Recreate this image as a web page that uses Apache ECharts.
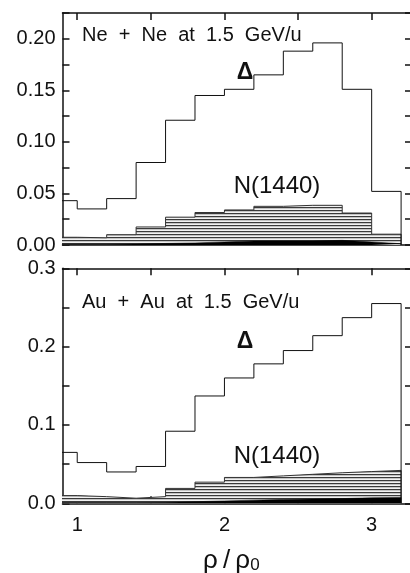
<!DOCTYPE html>
<html><head><meta charset="utf-8">
<script src="https://cdn.jsdelivr.net/npm/echarts@6/dist/echarts.min.js"></script>
<style>html,body{margin:0;padding:0;background:#fff}#c{width:410px;height:573px}</style>
</head><body><div id="c"></div>
<script>
// bin edges (rho/rho0)
const binEdges = [0.8,1.0,1.2,1.4,1.6,1.8,2.0,2.2,2.4,2.6,2.8,3.0,3.2];
// Ne + Ne at 1.5 GeV/u
const neDelta = [0.043,0.035,0.045,0.080,0.121,0.145,0.151,0.165,0.188,0.196,0.151,0.052];
const neN1440 = [0.0075,0.007,0.010,0.0175,0.027,0.0315,0.034,0.0375,0.0385,0.0385,0.031,0.0105];
const neDark  = [0.0008,0.0008,0.001,0.0015,0.002,0.003,0.004,0.004,0.004,0.0045,0.003,0.0012];
// Au + Au at 1.5 GeV/u
const auDelta = [0.065,0.052,0.040,0.047,0.092,0.137,0.160,0.178,0.195,0.214,0.237,0.255];
const auN1440 = [0.0098,0.0085,0.0065,0.0085,0.019,0.027,0.033,0.035,0.037,0.039,0.0405,0.042];
const auDark  = [0.001,0.001,0.001,0.0012,0.002,0.003,0.004,0.005,0.0055,0.006,0.007,0.0075];
// ticks
const xTickVals = [1,1.5,2,2.5,3];
const xLabelVals = [1,2,3];

function steps(vals){
  const d = vals.map((v,i)=>[binEdges[i], v]);
  const last = binEdges[vals.length];
  d.push([last, vals[vals.length-1]]);
  d.push([last, 0]);
  return d;
}

const pc = document.createElement('canvas');
pc.width = 4; pc.height = 3;
const g = pc.getContext('2d');
g.fillStyle = '#f2f2f2'; g.fillRect(0,0,4,3);
g.fillStyle = '#3a3a3a'; g.fillRect(0,0,4,1);
g.fillStyle = '#c4c4c4'; g.fillRect(0,1,4,1);

const FONT = 'Liberation Sans';
const black = '#111';
const grids = [
  {left:62.5, right:-2, top:13, height:232, outerBoundsMode:'none'},
  {left:62.5, right:-2, top:268.3, height:235, outerBoundsMode:'none'}
];
const xAxes = [], yAxes = [];
[0,1].forEach(gi=>{
  ['bottom','top'].forEach(pos=>{
    xAxes.push({type:'value', gridIndex:gi, position:pos, min:0.9, max:3.274,
      axisLine:{show:true, onZero:false, lineStyle:{color:black, width:1.5}},
      axisTick:{show:true, inside:true, length:7, customValues:xTickVals, lineStyle:{color:black,width:1.5}},
      axisLabel:{show:(gi===1 && pos==='bottom'), customValues:xLabelVals, margin:12,
        fontFamily:FONT, fontSize:20, color:black},
      splitLine:{show:false},
      name:(gi===1 && pos==='bottom') ? '{a|ρ\u2009/\u2009ρ}{b|0}' : '',
      nameLocation:'middle', nameGap:44,
      nameTextStyle:{padding:[0,12,0,0], rich:{a:{fontFamily:FONT,fontSize:26,color:black},
                           b:{fontFamily:FONT,fontSize:17,color:black,padding:[10,0,0,0]}}}
    });
  });
  ['left','right'].forEach(pos=>{
    const top = gi===0;
    yAxes.push({type:'value', gridIndex:gi, position:pos, min:0,
      max: top ? 0.225 : 0.3, interval: top ? 0.025 : 0.05,
      axisLine:{show:true, lineStyle:{color:black, width:1.5}},
      axisTick:{show:true, inside:true, length:7, lineStyle:{color:black,width:1.5}},
      axisLabel:{show:pos==='left', margin:7, fontFamily:FONT, fontSize:20, color:black,
        formatter:v=>{
          const m = Math.round(v*1000);
          if(top) return (m%50===0) ? v.toFixed(2) : '';
          return (m%100===0) ? v.toFixed(1) : '';
        }},
      splitLine:{show:false}
    });
  });
});

function hist(vals, gi, kind){
  const s = {type:'line', step:'end', xAxisIndex:gi*2, yAxisIndex:gi*2,
    data:steps(vals), symbol:'none', animation:false, silent:true};
  if(kind==='delta'){ s.lineStyle={color:black,width:1}; s.z=5; }
  if(kind==='n'){ s.lineStyle={color:'#333',width:1}; s.areaStyle={color:{image:pc,repeat:'repeat'},opacity:1}; s.z=3; }
  if(kind==='dark'){ s.lineStyle={color:'#000',width:0.5}; s.areaStyle={color:'#000',opacity:1}; s.z=4; }
  return s;
}

const txt = (t,x,y,size,align,weight)=>({type:'text', x:x, y:y, silent:true,
  style:{text:t, fontFamily:FONT, fontSize:size, fontWeight:weight||'normal', fill:black,
    textAlign:align, textVerticalAlign:'middle'}});

const chart = echarts.init(document.getElementById('c'), null, {renderer:'canvas'});
chart.setOption({
  animation:false,
  backgroundColor:'#fff',
  grid:grids, xAxis:xAxes, yAxis:yAxes,
  series:[
    hist(neN1440,0,'n'), hist(neDark,0,'dark'), hist(neDelta,0,'delta'),
    hist(auN1440,1,'n'), hist(auDark,1,'dark'), hist(auDelta,1,'delta')
  ],
  graphic:[
    txt('Ne  +  Ne  at  1.5  GeV/u', 82, 35, 20, 'left'),
    txt('Δ', 245, 72.5, 23, 'center', 'bold'),
    txt('N(1440)', 277, 186, 24, 'center'),
    txt('Au  +  Au  at  1.5  GeV/u', 82, 302.5, 20, 'left'),
    txt('Δ', 245, 341.7, 23, 'center', 'bold'),
    txt('N(1440)', 277, 456, 24, 'center')
  ]
});
</script></body></html>
